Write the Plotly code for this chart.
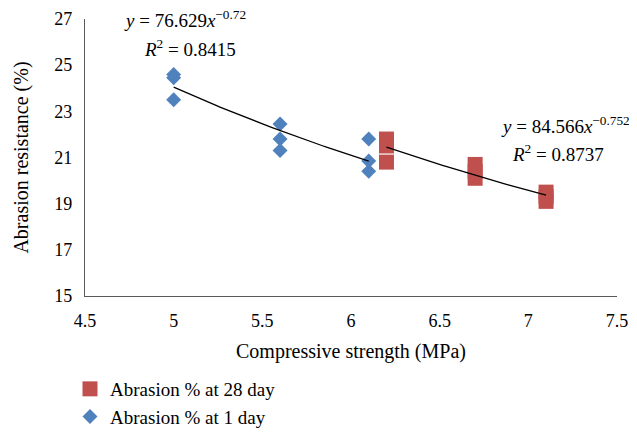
import numpy as np
import plotly.graph_objects as go

# 1-day data
x_1day = [5.0, 5.0, 5.0, 5.6, 5.6, 5.6, 6.1, 6.1, 6.1]
y_1day = [24.6, 24.45, 23.5, 22.45, 21.8, 21.3, 21.8, 20.85, 20.4]

# 28-day data
x_28day = [6.2, 6.2, 6.2, 6.7, 6.7, 6.7, 7.1, 7.1, 7.1]
y_28day = [21.8, 21.5, 20.8, 20.7, 20.4, 20.1, 19.5, 19.3, 19.1]

# Power trend line coefficients (from chart equations)
fit_1day = (76.629, -0.72)
fit_28day = (84.566, -0.752)

x_ticks = [4.5, 5, 5.5, 6, 6.5, 7, 7.5]
y_ticks = [15, 17, 19, 21, 23, 25, 27]

RED = "#C0504D"
BLUE = "#4F81BD"
FONT = "Liberation Serif"

def trend(xs, coef):
    a, b = coef
    xx = np.linspace(min(xs), max(xs), 60)
    return xx, a * xx ** b

fig = go.Figure()

fig.add_trace(go.Scatter(
    x=x_28day, y=y_28day, mode="markers", name="Abrasion % at 28 day",
    marker=dict(symbol="square", size=15, color=RED, line=dict(width=0)),
))
fig.add_trace(go.Scatter(
    x=x_1day, y=y_1day, mode="markers", name="Abrasion % at 1 day",
    marker=dict(symbol="diamond", size=11.5, color=BLUE, line=dict(width=0)),
))

tx, ty = trend(x_1day, fit_1day)
fig.add_trace(go.Scatter(x=tx, y=ty, mode="lines", line=dict(color="black", width=1.3),
                         showlegend=False, hoverinfo="skip"))
tx, ty = trend(x_28day, fit_28day)
fig.add_trace(go.Scatter(x=tx, y=ty, mode="lines", line=dict(color="black", width=1.3),
                         showlegend=False, hoverinfo="skip"))

# plot area in screen pixels (reference): x 85..617, y 19..296
eq_font = dict(family=FONT, size=19, color="black")
def ann(text, px, py):
    fig.add_annotation(x=(px - 85) / 532, y=(296 - py) / 277, xref="paper", yref="paper",
                       xanchor="center", yanchor="middle", text=text, showarrow=False, font=eq_font)

ann("<i>y</i> = 76.629<i>x</i><sup>−0.72</sup>", 185, 19)
ann("<i>R</i><sup>2</sup> = 0.8415", 190, 48)
ann("<i>y</i> = 84.566<i>x</i><sup>−0.752</sup>", 565, 125)
ann("<i>R</i><sup>2</sup> = 0.8737", 558, 153)

axis_common = dict(showline=True, linecolor="#595959", linewidth=1.3, showgrid=False,
                   zeroline=False, ticks="", automargin=False, ticklabelstandoff=8,
                   tickfont=dict(family=FONT, size=18, color="black"))

W, H = 629, 424  # page body has an 8px margin, so the figure is offset by 8px
fig.update_layout(
    width=W, height=H,
    margin=dict(l=77, r=20, t=11, b=136),
    paper_bgcolor="white", plot_bgcolor="white",
    font=dict(family=FONT, size=18, color="black"),
    xaxis=dict(range=[4.5, 7.5], tickvals=x_ticks, ticktext=[str(v) for v in x_ticks],
               title=dict(text="Compressive strength (MPa)", font=dict(family=FONT, size=20), standoff=14),
               **axis_common),
    yaxis=dict(range=[15, 27], tickvals=y_ticks, ticktext=[str(v) for v in y_ticks],
               title=dict(text="Abrasion resistance (%)", font=dict(family=FONT, size=20), standoff=20),
               **axis_common),
    legend=dict(xref="paper", yref="container",
                x=(70 - 85) / 532, y=1 - (370 - 8) / H, xanchor="left", yanchor="top",
                font=dict(family=FONT, size=19), tracegroupgap=0, itemsizing="trace",
                bgcolor="rgba(0,0,0,0)"),
    showlegend=True,
)

fig.write_html("out.html")
